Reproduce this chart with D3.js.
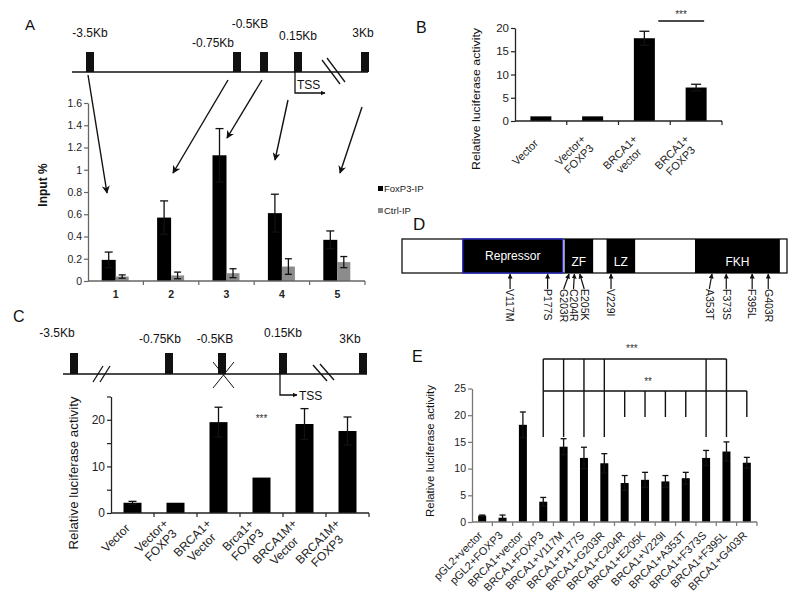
<!DOCTYPE html>
<html>
<head>
<meta charset="utf-8">
<script src="https://cdn.jsdelivr.net/npm/d3@7"></script>
<style>
body { margin: 0; background: #fff; }
svg { display: block; font-family: "Liberation Sans", Arial, sans-serif; }
</style>
</head>
<body>
<script>
'use strict';

// ---- data ----
var siteLabels = ["-3.5Kb", "-0.75Kb", "-0.5KB", "0.15Kb", "3Kb"];

// A: ChIP
var chipRegions = ["1", "2", "3", "4", "5"];
var seriesA = ["FoxP3-IP", "Ctrl-IP"];
var foxp3IP = [0.19, 0.57, 1.13, 0.61, 0.37];
var foxp3IPErr = [0.07, 0.15, 0.24, 0.17, 0.08];
var ctrlIP = [0.04, 0.05, 0.07, 0.13, 0.17];
var ctrlIPErr = [0.015, 0.03, 0.04, 0.07, 0.05];
var ticksA = [0, 0.2, 0.4, 0.6, 0.8, 1, 1.2, 1.4, 1.6];

// B: luciferase
var groupsB = ["Vector", "Vector+\nFOXP3", "BRCA1+\nvector", "BRCA1+\nFOXP3"];
var lucB = [1.0, 1.0, 17.8, 7.2];
var lucBErr = [0, 0, 1.5, 0.7];
var ticksB = [0, 5, 10, 15, 20];

// C: luciferase, mutated site
var groupsC = ["Vector", "Vector+\nFOXP3", "BRCA1+\nVector", "Brca1+\nFOXP3", "BRCA1M+\nVector", "BRCA1M+\nFOXP3"];
var lucC = [2.2, 2.2, 19.5, 7.6, 19.1, 17.6];
var lucCErr = [0.3, 0, 3.2, 0, 3.3, 3.0];
var ticksC = [0, 5, 10, 15, 20, 25];
var tickLabelsC = [0, 10, 20];

// D: FOXP3 domains (schematic residue units)
var proteinLength = 431;
var domainNames = ["Repressor", "ZF", "LZ", "FKH"];
var domainStart = [68, 182, 229, 328];
var domainEnd = [180, 214, 261, 423];
var mutations = ["V117M", "P177S", "G203R", "C204R", "E205K", "V229I", "A353T", "F373S", "F395L", "G403R"];
var mutationSite = [121, 163, 187, 193, 199, 234, 347, 363, 392, 410];
var mutationLabelAt = [121, 163, 181, 192, 204, 234, 344, 363, 392, 410];

// E: luciferase, FOXP3 mutants
var groupsE = ["pGL2+vector", "pGL2+FOXP3", "BRCA1+vector", "BRCA1+FOXP3", "BRCA1+V117M", "BRCA1+P177S",
  "BRCA1+G203R", "BRCA1+C204R", "BRCA1+E205K", "BRCA1+V229I", "BRCA1+A353T", "BRCA1+F373S",
  "BRCA1+F395L", "BRCA1+G403R"];
var lucE = [1.2, 0.8, 18.2, 3.8, 14.1, 12.0, 11.0, 7.3, 7.9, 7.6, 8.2, 12.0, 13.2, 11.1];
var lucEErr = [0.1, 0.5, 2.4, 0.8, 1.5, 2.0, 1.8, 1.4, 1.4, 1.1, 1.1, 1.4, 1.8, 1.0];
var ticksE = [0, 5, 10, 15, 20, 25];
var tripleStar = ["BRCA1+FOXP3", "BRCA1+V117M", "BRCA1+P177S", "BRCA1+G203R", "BRCA1+F373S", "BRCA1+F395L"];
var doubleStar = ["BRCA1+FOXP3", "BRCA1+C204R", "BRCA1+E205K", "BRCA1+V229I", "BRCA1+A353T", "BRCA1+G403R"];

var width = 800,
    height = 604;

var svg = d3.select("body").append("svg")
    .attr("width", width)
    .attr("height", height);

var defs = svg.append("defs");
defs.append("marker")
    .attr("id", "head")
    .attr("viewBox", "0 0 10 10")
    .attr("refX", 9).attr("refY", 5)
    .attr("markerWidth", 8).attr("markerHeight", 8)
    .attr("markerUnits", "userSpaceOnUse")
    .attr("orient", "auto")
  .append("path")
    .attr("d", "M0,0L10,5L0,10L3,5z")
    .attr("fill", "#111");
defs.append("marker")
    .attr("id", "smallhead")
    .attr("viewBox", "0 0 10 10")
    .attr("refX", 9).attr("refY", 5)
    .attr("markerWidth", 5).attr("markerHeight", 5)
    .attr("markerUnits", "userSpaceOnUse")
    .attr("orient", "auto")
  .append("path")
    .attr("d", "M0,0L10,5L0,10z")
    .attr("fill", "#111");

function panelLabel(t, x, y, size) {
  svg.append("text").attr("x", x).attr("y", y)
      .attr("font-size", size).attr("fill", "#111").text(t);
}

function line(g, x1, y1, x2, y2, w, c) {
  return g.append("line")
      .attr("x1", x1).attr("y1", y1).attr("x2", x2).attr("y2", y2)
      .attr("stroke", c || "#111").attr("stroke-width", w || 1);
}

function yAxis(g, y, x0, ticks, labels, size, color) {
  var ax = d3.axisLeft(y).tickValues(ticks).tickSize(4).tickSizeOuter(0)
      .tickFormat(function(d) { return labels.indexOf(d) >= 0 ? d : ""; });
  var a = g.append("g").attr("transform", "translate(" + x0 + ",0)").call(ax);
  a.select(".domain").attr("stroke", color).attr("stroke-width", 1.3);
  a.selectAll(".tick line").attr("stroke", color).attr("stroke-width", 1.2);
  a.selectAll(".tick text").attr("font-size", size).attr("fill", "#222")
      .attr("font-family", "Liberation Sans, Arial, sans-serif").attr("x", -6);
}

function xAxis(g, x, y0, color) {
  var r = x.range();
  line(g, r[0], y0, r[1], y0, 1.3, color);
  x.domain().forEach(function(d) {
    var bx = x(d) + x.bandwidth();
    line(g, bx, y0, bx, y0 + 4, 1.2, color);
  });
}

function bars(g, x, y, cats, vals, errs, bw, off, fill, cap) {
  cats.forEach(function(c, i) {
    var cx = x(c) + x.bandwidth() / 2 + off;
    g.append("rect")
        .attr("x", cx - bw / 2).attr("y", y(vals[i]))
        .attr("width", bw).attr("height", y(0) - y(vals[i]))
        .attr("fill", fill);
    if (errs[i] > 0) {
      var top = y(vals[i] + errs[i]), bot = y(Math.max(0, vals[i] - errs[i]));
      line(g, cx, top, cx, bot, 1.3);
      line(g, cx - cap / 2, top, cx + cap / 2, top, 1.3);
      line(g, cx - cap / 2, bot, cx + cap / 2, bot, 1.3);
    }
  });
}

function rotLabels(g, x, y0, cats, size, dx, dy) {
  cats.forEach(function(c) {
    var lines = c.split("\n");
    var t = g.append("text")
        .attr("font-size", size).attr("fill", "#222")
        .attr("text-anchor", "middle");
    lines.forEach(function(l, i) {
      t.append("tspan").attr("x", 0)
          .attr("dy", i === 0 ? (-(lines.length - 1) * 0.55) + "em" : "1.1em")
          .text(l);
    });
    var w = 0;
    t.selectAll("tspan").each(function() { w = Math.max(w, this.getComputedTextLength()); });
    t.selectAll("tspan").attr("x", -w / 2);
    t.attr("transform", "translate(" + (x(c) + x.bandwidth() / 2 + dx) + "," + (y0 + dy) + ") rotate(-45)");
  });
}

function yTitle(g, t, x, y, size, len) {
  g.append("text")
      .attr("transform", "translate(" + x + "," + y + ") rotate(-90)")
      .attr("text-anchor", "middle").attr("font-size", size).attr("fill", "#111")
      .attr("textLength", len).attr("lengthAdjust", "spacingAndGlyphs")
      .text(t);
}

function geneMap(g, lineY, x0, x1, boxX, boxTop, labelPos) {
  line(g, x0, lineY, x1, lineY, 1.5);
  boxX.forEach(function(bx, i) {
    g.append("rect").attr("x", bx).attr("y", boxTop)
        .attr("width", 8).attr("height", lineY - boxTop).attr("fill", "#111");
    g.append("text").attr("x", labelPos[i][0]).attr("y", labelPos[i][1])
        .attr("text-anchor", "middle").attr("font-size", 12).attr("fill", "#111")
        .text(siteLabels[i]);
  });
}

// ================= A =================
panelLabel("A", 25, 30, 15);
var gA = svg.append("g");
geneMap(gA, 72, 72, 368, [86, 233, 260, 294, 361], 52,
  [[90, 37], [213, 47], [250, 28], [298, 40], [363, 37]]);
line(gA, 322, 60, 340, 84, 1.3);
line(gA, 327, 58, 345, 82, 1.3);
gA.append("path").attr("d", "M295,72V93H325").attr("fill", "none")
    .attr("stroke", "#111").attr("stroke-width", 1.3).attr("marker-end", "url(#smallhead)");
gA.append("text").attr("x", 297).attr("y", 89).attr("font-size", 12).attr("fill", "#111").text("TSS");
[[88, 75, 107, 193], [228, 80, 173, 173], [262, 80, 227, 138], [288, 100, 275, 160], [362, 107, 340, 173]]
  .forEach(function(a) {
    line(gA, a[0], a[1], a[2], a[3], 1.4).attr("marker-end", "url(#head)");
  });

var xA = d3.scaleBand().domain(chipRegions).range([88, 365]);
var yA = d3.scaleLinear().domain([0, 1.6]).range([281, 103]);
bars(gA, xA, yA, chipRegions, foxp3IP, foxp3IPErr, 14, -7, "#000", 8);
bars(gA, xA, yA, chipRegions, ctrlIP, ctrlIPErr, 13, 6.5, "#8c8c8c", 7);
yAxis(gA, yA, 88, ticksA, ticksA, 10.5, "#666");
xAxis(gA, xA, 281, "#666");
chipRegions.forEach(function(c) {
  gA.append("text").attr("x", xA(c) + xA.bandwidth() / 2).attr("y", 298)
      .attr("text-anchor", "middle").attr("font-size", 10.5).attr("font-weight", "bold")
      .attr("fill", "#222").text(c);
});
gA.append("text")
    .attr("transform", "translate(47,185) rotate(-90)")
    .attr("text-anchor", "middle").attr("font-size", 12).attr("font-weight", "bold")
    .attr("fill", "#111").text("Input %");
seriesA.forEach(function(s, i) {
  gA.append("rect").attr("x", 378).attr("y", 186 + i * 22).attr("width", 5).attr("height", 5)
      .attr("fill", i === 0 ? "#000" : "#8c8c8c");
  gA.append("text").attr("x", 384).attr("y", 192 + i * 22).attr("font-size", 9.5)
      .attr("fill", "#222").text(s);
});

// ================= B =================
panelLabel("B", 416, 33, 16);
var gB = svg.append("g");
var xB = d3.scaleBand().domain(groupsB).range([515, 722]);
var yB = d3.scaleLinear().domain([0, 20]).range([121, 28]);
bars(gB, xB, yB, groupsB, lucB, lucBErr, 21, 0, "#000", 10);
yAxis(gB, yB, 515, ticksB, ticksB, 11.5, "#222");
xAxis(gB, xB, 121, "#222");
rotLabels(gB, xB, 121, groupsB, 11, -2, 23);
yTitle(gB, "Relative  luciferase  activity", 480, 99, 11, 142);
line(gB, xB(groupsB[3]) - 12, 21, xB(groupsB[3]) + xB.bandwidth() / 2 + 8, 21, 1.3);
gB.append("text").attr("x", 681).attr("y", 18).attr("text-anchor", "middle")
    .attr("font-size", 10).attr("fill", "#333").text("***");

// ================= C =================
panelLabel("C", 13, 322, 16);
var gC = svg.append("g");
geneMap(gC, 374, 63, 367, [70, 165, 218, 279, 359], 353,
  [[57, 337], [160, 343], [215, 343], [283, 337], [350, 343]]);
line(gC, 93, 382, 103, 366, 1.3);
line(gC, 100, 382, 110, 366, 1.3);
line(gC, 313, 365, 327, 381, 1.3);
line(gC, 320, 364, 334, 380, 1.3);
line(gC, 213, 362, 234, 388, 1);
line(gC, 234, 362, 213, 388, 1);
gC.append("path").attr("d", "M280,374V395H297").attr("fill", "none")
    .attr("stroke", "#111").attr("stroke-width", 1.3).attr("marker-end", "url(#smallhead)");
gC.append("text").attr("x", 299).attr("y", 400).attr("font-size", 12).attr("fill", "#111").text("TSS");

var xC = d3.scaleBand().domain(groupsC).range([111, 369]);
var yC = d3.scaleLinear().domain([0, 25]).range([513, 396.5]);
bars(gC, xC, yC, groupsC, lucC, lucCErr, 18, 0, "#000", 8);
yAxis(gC, yC, 111, ticksC, tickLabelsC, 12, "#222");
xAxis(gC, xC, 513, "#222");
rotLabels(gC, xC, 513, groupsC, 12, -2, 16);
yTitle(gC, "Relative  luciferase  activity", 78, 473, 12, 153);
gC.append("text").attr("x", xC(groupsC[3]) + xC.bandwidth() / 2).attr("y", 422)
    .attr("text-anchor", "middle").attr("font-size", 10).attr("fill", "#333").text("***");

// ================= D =================
panelLabel("D", 413, 230, 17);
var gD = svg.append("g");
var xD = d3.scaleLinear().domain([0, proteinLength]).range([402, 787]);
gD.append("rect").attr("x", xD(0)).attr("y", 239).attr("width", xD(proteinLength) - xD(0))
    .attr("height", 34).attr("fill", "#fff").attr("stroke", "#111").attr("stroke-width", 1.3);
domainNames.forEach(function(d, i) {
  gD.append("rect").attr("x", xD(domainStart[i])).attr("y", 239)
      .attr("width", xD(domainEnd[i]) - xD(domainStart[i])).attr("height", 34)
      .attr("fill", "#000")
      .attr("stroke", i === 0 ? "#2a2ad0" : "none").attr("stroke-width", 1.3);
  gD.append("text").attr("x", (xD(domainStart[i]) + xD(domainEnd[i])) / 2)
      .attr("y", i === 0 ? 260 : 266).attr("text-anchor", "middle")
      .attr("font-size", 12).attr("fill", "#fff").text(d);
});
mutations.forEach(function(m, i) {
  line(gD, xD(mutationLabelAt[i]), 289, xD(mutationSite[i]), 274, 1.2).attr("marker-end", "url(#smallhead)");
  gD.append("text")
      .attr("transform", "translate(" + xD(mutationLabelAt[i]) + ",289) rotate(90)")
      .attr("dy", "0.35em").attr("font-size", 10.5).attr("fill", "#111").text(m);
});

// ================= E =================
panelLabel("E", 412, 362, 16);
var gE = svg.append("g");
var xE = d3.scaleBand().domain(groupsE).range([472, 757]);
var yE = d3.scaleLinear().domain([0, 25]).range([522, 388.5]);
bars(gE, xE, yE, groupsE, lucE, lucEErr, 8, 0, "#000", 6);
yAxis(gE, yE, 472, ticksE, ticksE, 10.5, "#777");
xAxis(gE, xE, 522, "#777");
rotLabels(gE, xE, 522, groupsE, 11, 1, 14);
yTitle(gE, "Relative  luciferase  activity", 434, 451, 10.5, 132);

function cxE(c) { return xE(c) + xE.bandwidth() / 2; }
// *** bracket: top bar, long legs
line(gE, cxE(tripleStar[0]), 359, cxE(tripleStar[tripleStar.length - 1]), 359, 1.4);
tripleStar.forEach(function(c) { line(gE, cxE(c), 359, cxE(c), 437, 1.4); });
gE.append("text").attr("x", (cxE(tripleStar[0]) + cxE(tripleStar[tripleStar.length - 1])) / 2 - 3)
    .attr("y", 352).attr("text-anchor", "middle").attr("font-size", 10).attr("fill", "#333").text("***");
// ** bracket: lower bar, short legs
line(gE, cxE(doubleStar[0]), 391, cxE(doubleStar[doubleStar.length - 1]), 391, 1.4);
doubleStar.slice(1).forEach(function(c) { line(gE, cxE(c), 391, cxE(c), 417, 1.4); });
gE.append("text").attr("x", cxE("BRCA1+E205K") + 3).attr("y", 385)
    .attr("text-anchor", "middle").attr("font-size", 10).attr("fill", "#333").text("**");
</script>
</body>
</html>
